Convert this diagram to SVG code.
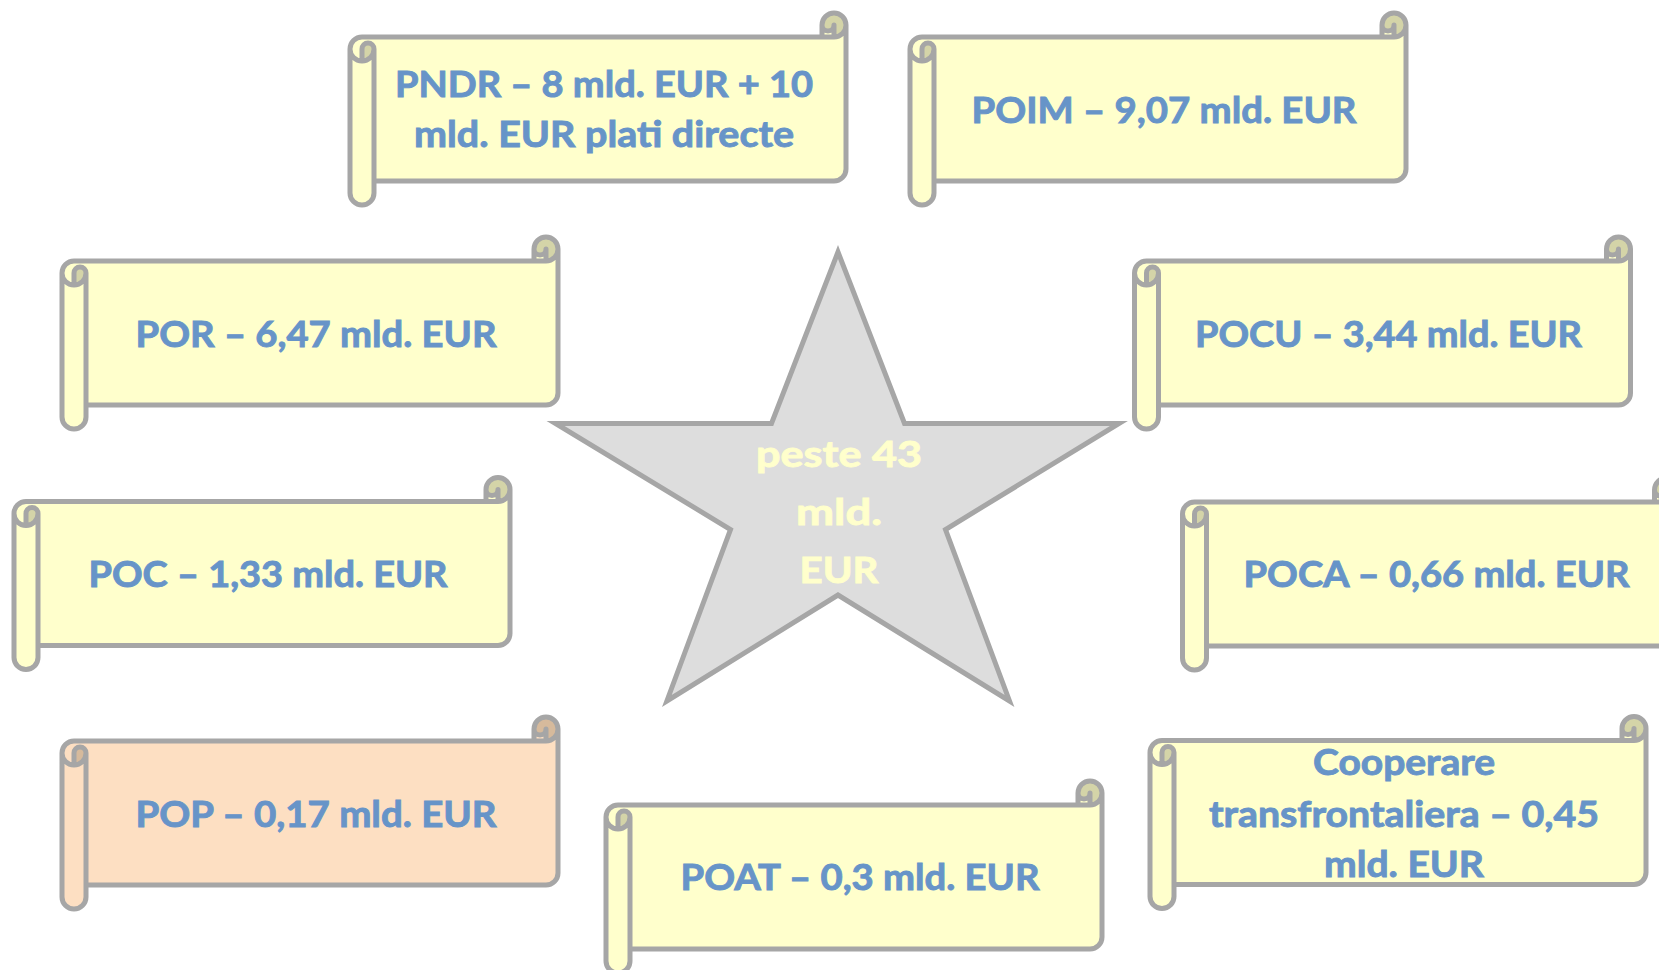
<svg xmlns="http://www.w3.org/2000/svg" width="1659" height="970" viewBox="0 0 1659 970">
<style>
.body{fill:#FFFFCC}
.peach .body{fill:#FDDFC2}
.dark{fill:#D4D4A8}
.peach .dark{fill:#D6BA9C}
.line{fill:none;stroke:#A6A6A6;stroke-width:5;stroke-linejoin:round;stroke-linecap:round}
.lbl{font-family:Lato,"Open Sans","Liberation Sans",sans-serif;font-weight:bold;font-size:36px;fill:#6794C8;stroke:#6794C8;stroke-width:0.9;text-anchor:middle}
.star-lbl{font-family:Lato,"Open Sans","Liberation Sans",sans-serif;font-weight:bold;font-size:37px;fill:#FFFFCC;stroke:#FFFFCC;stroke-width:0.9;text-anchor:middle}
</style>
<defs>
<path id="scroll-body" d="M496,12 A12,12 0 0 1 484,24 L484,12 A6,6 0 0 1 472,12 L472,24 L12,24 A12,12 0 0 0 0,36 L0,180 A12,12 0 0 0 24,180 L24,168 L484,168 A12,12 0 0 0 496,156 Z M12,48 A12,12 0 0 0 24,36 A6,6 0 0 0 12,36 Z"/>
<path id="scroll-dark" d="M484,24 A12,12 0 1 0 472,12 A6,6 0 0 0 484,12 Z M12,48 A12,12 0 0 0 24,36 A6,6 0 0 0 12,36 Z"/>
<path id="scroll-line" d="M0,36 A12,12 0 0 1 12,24 L472,24 L472,12 A12,12 0 0 1 496,12 L496,156 A12,12 0 0 1 484,168 L24,168 L24,180 A12,12 0 0 1 0,180 Z M472,24 L484,24 A12,12 0 0 0 496,12 M484,24 L484,12 A6,6 0 0 1 472,12 M12,48 L12,36 A6,6 0 0 1 24,36 A12,12 0 0 1 0,36 M24,36 L24,168"/>
</defs>
<g id="connectors"></g>
<g id="star">
<polygon points="838,252 771.5,423.5 555.5,423.5 730.5,529.5 666.9,701 838,595 1009.5,701 945.5,529.5 1119,423.5 904.5,423.5" fill="#DDDDDD" stroke="#A6A6A6" stroke-width="5" stroke-linejoin="miter"/>
<text class="star-lbl" x="839" y="467" textLength="166" lengthAdjust="spacingAndGlyphs">peste 43</text>
<text class="star-lbl" x="839" y="525" textLength="86" lengthAdjust="spacingAndGlyphs">mld.</text>
<text class="star-lbl" x="839" y="583" textLength="79" lengthAdjust="spacingAndGlyphs">EUR</text>
</g>
<g id="pndr" transform="translate(350,13)">
<use href="#scroll-body" class="body"/><use href="#scroll-dark" class="dark"/><use href="#scroll-line" class="line"/>
<text class="lbl" x="254" y="84" textLength="418" lengthAdjust="spacingAndGlyphs">PNDR – 8 mld. EUR + 10</text>
<text class="lbl" x="254" y="134" textLength="380" lengthAdjust="spacingAndGlyphs">mld. EUR plati directe</text>
</g>
<g id="poim" transform="translate(910,13)">
<use href="#scroll-body" class="body"/><use href="#scroll-dark" class="dark"/><use href="#scroll-line" class="line"/>
<text class="lbl" x="254" y="110" textLength="385" lengthAdjust="spacingAndGlyphs">POIM – 9,07 mld. EUR</text>
</g>
<g id="por" transform="translate(62,237)">
<use href="#scroll-body" class="body"/><use href="#scroll-dark" class="dark"/><use href="#scroll-line" class="line"/>
<text class="lbl" x="254" y="110" textLength="361" lengthAdjust="spacingAndGlyphs">POR – 6,47 mld. EUR</text>
</g>
<g id="pocu" transform="translate(1134.5,237)">
<use href="#scroll-body" class="body"/><use href="#scroll-dark" class="dark"/><use href="#scroll-line" class="line"/>
<text class="lbl" x="254" y="110" textLength="387" lengthAdjust="spacingAndGlyphs">POCU – 3,44 mld. EUR</text>
</g>
<g id="poc" transform="translate(14,477.5)">
<use href="#scroll-body" class="body"/><use href="#scroll-dark" class="dark"/><use href="#scroll-line" class="line"/>
<text class="lbl" x="254" y="109.5" textLength="359" lengthAdjust="spacingAndGlyphs">POC – 1,33 mld. EUR</text>
</g>
<g id="poca" transform="translate(1182.5,478)">
<use href="#scroll-body" class="body"/><use href="#scroll-dark" class="dark"/><use href="#scroll-line" class="line"/>
<text class="lbl" x="254" y="109" textLength="386" lengthAdjust="spacingAndGlyphs">POCA – 0,66 mld. EUR</text>
</g>
<g id="pop" class="peach" transform="translate(62,717)">
<use href="#scroll-body" class="body"/><use href="#scroll-dark" class="dark"/><use href="#scroll-line" class="line"/>
<text class="lbl" x="254" y="110" textLength="361" lengthAdjust="spacingAndGlyphs">POP – 0,17 mld. EUR</text>
</g>
<g id="poat" transform="translate(606,781)">
<use href="#scroll-body" class="body"/><use href="#scroll-dark" class="dark"/><use href="#scroll-line" class="line"/>
<text class="lbl" x="254" y="109" textLength="359" lengthAdjust="spacingAndGlyphs">POAT – 0,3 mld. EUR</text>
</g>
<g id="cooperare" transform="translate(1150,716.5)">
<use href="#scroll-body" class="body"/><use href="#scroll-dark" class="dark"/><use href="#scroll-line" class="line"/>
<text class="lbl" x="254" y="58.5" textLength="182" lengthAdjust="spacingAndGlyphs">Cooperare</text>
<text class="lbl" x="254" y="110" textLength="390" lengthAdjust="spacingAndGlyphs">transfrontaliera – 0,45</text>
<text class="lbl" x="254" y="160.5" textLength="160" lengthAdjust="spacingAndGlyphs">mld. EUR</text>
</g>
</svg>
